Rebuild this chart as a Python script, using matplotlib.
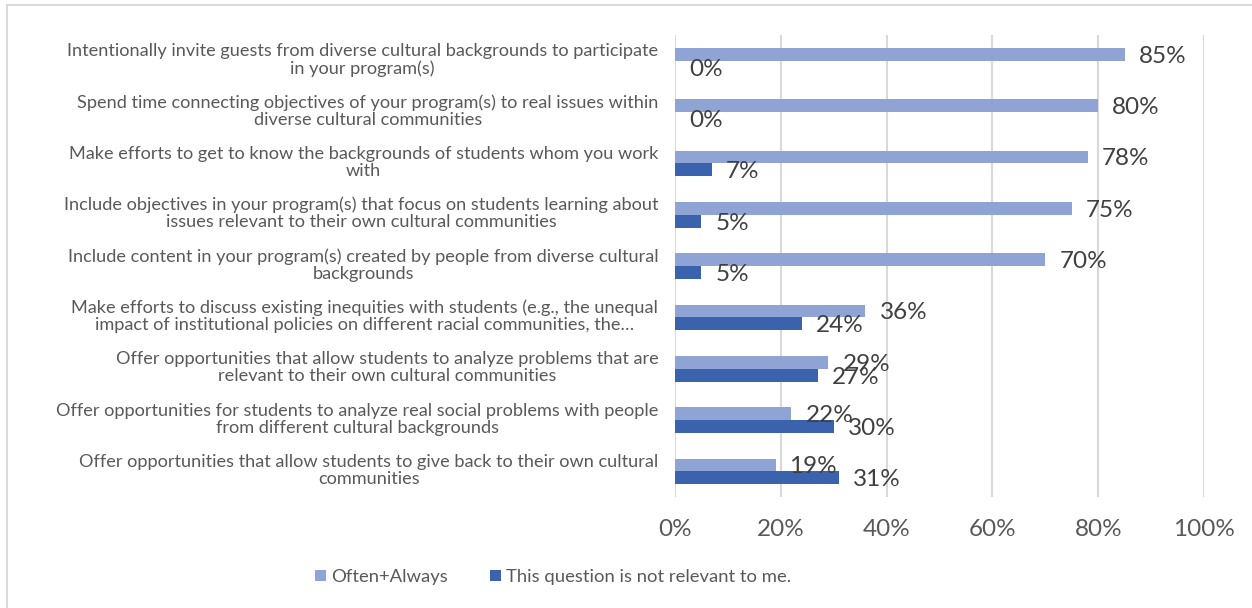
import matplotlib
matplotlib.use("Agg")
import matplotlib.pyplot as plt
from matplotlib.lines import Line2D
from matplotlib.patches import Patch
import matplotlib.transforms as mtransforms

categories = [
    "Intentionally invite guests from diverse cultural backgrounds to participate\nin your program(s)",
    "Spend time connecting objectives of your program(s) to real issues within\ndiverse cultural communities",
    "Make efforts to get to know the backgrounds of students whom you work\nwith",
    "Include objectives in your program(s) that focus on students learning about\nissues relevant to their own cultural communities",
    "Include content in your program(s) created by people from diverse cultural\nbackgrounds",
    "Make efforts to discuss existing inequities with students (e.g., the unequal\nimpact of institutional policies on different racial communities, the\u2026",
    "Offer opportunities that allow students to analyze problems that are\nrelevant to their own cultural communities",
    "Offer opportunities for students to analyze real social problems with people\nfrom different cultural backgrounds",
    "Offer opportunities that allow students to give back to their own cultural\ncommunities",
]
often_always = [85, 80, 78, 75, 70, 36, 29, 22, 19]
not_relevant = [0, 0, 7, 5, 5, 24, 27, 30, 31]
series_names = ["Often+Always", "This question is not relevant to me."]
x_ticks = [0, 20, 40, 60, 80, 100]

FONT = ["Lato", "DejaVu Sans"]
LIGHT = "#8FA4D4"
DARK = "#3B63AD"
GRID = "#D9D9D9"
TXT = "#595959"
LBL = "#404040"

W, H = 1252, 608
fig = plt.figure(figsize=(W / 100, H / 100), dpi=100)
ax = fig.add_axes([675 / W, 1 - 497 / H, (1204 - 675) / W, (497 - 35) / H])

n = len(categories)
pos = list(range(n))
h = 0.25
ax.barh([p - h / 2 for p in pos], often_always, height=h, color=LIGHT, zorder=3)
ax.barh([p + h / 2 for p in pos], not_relevant, height=h, color=DARK, zorder=3)

ax.set_xlim(0, 100)
ax.set_ylim(n - 0.5, -0.5)
ax.set_xticks(x_ticks)
ax.set_xticklabels([f"{t}%" for t in x_ticks], fontsize=17.5, color=TXT, family=FONT)
ax.tick_params(axis="x", length=0, pad=16)
ax.set_yticks(pos)
ax.set_yticklabels(categories, fontsize=13.1, color=TXT, family=FONT,
                   multialignment="center", linespacing=1.08)
ax.tick_params(axis="y", length=0, pad=12)
lift = mtransforms.ScaledTranslation(0, 3 / 100, fig.dpi_scale_trans)
for lab in ax.get_yticklabels():
    lab.set_transform(lab.get_transform() + lift)
ax.grid(axis="x", color=GRID, linewidth=1.5, zorder=0)
for s in ax.spines.values():
    s.set_visible(False)

# value labels just past the end of each bar
off = mtransforms.offset_copy(ax.transData, fig=fig, x=14, y=-2, units="dots")
for p, a, b in zip(pos, often_always, not_relevant):
    ax.text(a, p - h / 2, f"{a}%", transform=off, ha="left", va="center",
            fontsize=17.5, color=LBL, family=FONT, zorder=4)
    ax.text(b, p + h / 2, f"{b}%", transform=off, ha="left", va="center",
            fontsize=17.5, color=LBL, family=FONT, zorder=4)

handles = [Patch(facecolor=LIGHT), Patch(facecolor=DARK)]
fig.legend(handles, series_names, loc="center", bbox_to_anchor=(553 / W, 1 - 577 / H),
           ncol=2, frameon=False, handlelength=0.6, handleheight=0.6,
           handletextpad=0.25, columnspacing=2.3, prop={"family": FONT, "size": 13.3},
           labelcolor=TXT)

# chart frame edges
fig.add_artist(Line2D([6.5 / W, 6.5 / W], [0, 1 - 4.5 / H], color=GRID, lw=1.5))
fig.add_artist(Line2D([6.5 / W, 1], [1 - 4.5 / H, 1 - 4.5 / H], color=GRID, lw=1.5))

fig.savefig("out.png", dpi=100, facecolor="white")
